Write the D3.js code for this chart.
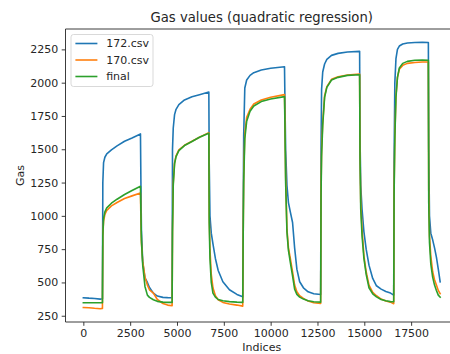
<!DOCTYPE html>
<html>
<head>
<meta charset="utf-8">
<script src="https://cdn.jsdelivr.net/npm/d3@7"></script>
<style>
  body { margin: 0; background: #fff; }
  svg text { font-family: "DejaVu Sans", sans-serif; fill: #262626; }
</style>
</head>
<body>
<div id="chart-1"></div>
<script>
// sample indices shared by the three series
var indices = [0, 300, 600, 900, 1020,
  1040, 1080, 1150, 1250, 1500, 1800, 2200, 2600, 3050,
  3070, 3100, 3170, 3290, 3420, 3530, 3740, 3950, 4250, 4500, 4740,
  4760, 4800, 4870, 4950, 5100, 5400, 5800, 6200, 6700,
  6720, 6760, 6830, 6920, 7050, 7200, 7450, 7800, 8200, 8510,
  8530, 8560, 8620, 8720, 8900, 9100, 9500, 10000, 10740,
  10760, 10800, 10870, 10950, 11050, 11170, 11280, 11400, 11550, 11750, 12000, 12300, 12670,
  12690, 12720, 12780, 12880, 13000, 13250, 13600, 14100, 14750,
  14770, 14810, 14880, 14980, 15100, 15250, 15450, 15650, 15900, 16150, 16400, 16570,
  16590, 16630, 16690, 16770, 16870, 17050, 17300, 17700, 18100, 18420,
  18440, 18480, 18550, 18650, 18750, 18850, 18950, 19050]

var gas172 = [385, 382, 380, 375, 378,
  1250, 1400, 1440, 1465, 1495, 1525, 1560, 1585, 1615,
  1300, 900, 650, 535, 500, 462, 420, 398, 388, 386, 385,
  1500, 1660, 1760, 1800, 1835, 1870, 1895, 1910, 1930,
  1400, 1000, 870, 790, 680, 590, 505, 445, 410, 392,
  900, 1600, 1960, 2020, 2055, 2075, 2095, 2108, 2120,
  1900, 1500, 1230, 1100, 1030, 950, 760, 600, 505, 460, 430, 415, 410,
  1500, 1950, 2080, 2140, 2175, 2205, 2220, 2230, 2235,
  1600, 1230, 1050, 880, 750, 630, 530, 475, 450, 432, 420, 405,
  1400, 2000, 2180, 2250, 2275, 2290, 2298, 2302, 2303, 2302,
  1500, 1000, 870, 820, 760, 690, 600, 505]

var gas170 = [312, 310, 306, 303, 305,
  850, 960, 1010, 1040, 1075, 1100, 1130, 1150, 1172,
  1000, 800, 660, 540, 480, 445, 420, 372, 342, 330, 325,
  900, 1250, 1400, 1450, 1495, 1530, 1560, 1590, 1625,
  1000, 750, 560, 460, 400, 370, 350, 338, 330, 322,
  800, 1300, 1620, 1740, 1800, 1840, 1870, 1890, 1910,
  1750, 1300, 900, 760, 680, 580, 480, 430, 400, 380, 360, 348, 342,
  1200, 1500, 1700, 1900, 1970, 2025, 2045, 2058, 2065,
  1500, 1100, 900, 700, 580, 480, 425, 400, 375, 360, 352, 340,
  1200, 1600, 1900, 2040, 2100, 2130, 2145, 2152, 2155, 2155,
  1200, 850, 700, 580, 520, 480, 440, 415]

var gasFinal = [347, 347, 347, 347, 347,
  850, 980, 1030, 1060, 1095, 1125, 1160, 1190, 1222,
  1050, 820, 630, 470, 405, 388, 370, 358, 352, 350, 350,
  880, 1230, 1390, 1445, 1490, 1528, 1558, 1590, 1620,
  950, 680, 500, 420, 390, 372, 362, 356, 352, 350,
  780, 1250, 1580, 1710, 1785, 1825, 1858, 1878, 1895,
  1700, 1250, 880, 740, 650, 550, 450, 410, 390, 375, 362, 355, 352,
  1150, 1450, 1680, 1890, 1965, 2020, 2040, 2055, 2060,
  1450, 1050, 850, 680, 560, 460, 415, 392, 372, 362, 356, 355,
  1150, 1580, 1890, 2040, 2110, 2145, 2160, 2168, 2170, 2168,
  1100, 800, 640, 540, 480, 440, 405, 390]

var seriesNames = ['172.csv', '170.csv', 'final']
var seriesValues = [gas172, gas170, gasFinal]
var colors = ['#1f77b4', '#ff7f0e', '#2ca02c']

var xTicks = [0, 2500, 5000, 7500, 10000, 12500, 15000, 17500]
var yTicks = [250, 500, 750, 1000, 1250, 1500, 1750, 2000, 2250]

var width = 450
var height = 354
var margin = { top: 29, right: -8, bottom: 32, left: 65.5 }

var svg = d3.select('#chart-1').append('svg')
  .attr('width', width)
  .attr('height', height)

// matplotlib style 5% padding around the data
var xMin = d3.min(indices), xMax = d3.max(indices)
var xPad = (xMax - xMin) * 0.05
var xScale = d3.scaleLinear()
  .domain([xMin - xPad, xMax + xPad])
  .range([margin.left, width - margin.right])

var allVals = d3.merge(seriesValues)
var yMin = d3.min(allVals), yMax = d3.max(allVals)
var yPad = (yMax - yMin) * 0.05
var yScale = d3.scaleLinear()
  .domain([yMin - yPad, yMax + yPad])
  .range([height - margin.bottom, margin.top])

var fs = 11

// x axis
var xAxis = d3.axisBottom(xScale)
  .tickValues(xTicks)
  .tickFormat(d => d.toString())
  .tickSize(3.8)
  .tickPadding(3.5)
var gx = svg.append('g')
  .attr('transform', 'translate(0,' + (height - margin.bottom) + ')')
  .call(xAxis)
gx.select('.domain').remove()
gx.selectAll('.tick line').attr('stroke', '#262626').attr('stroke-width', 0.9)
gx.selectAll('.tick text').attr('font-size', fs).style('font-family', '"DejaVu Sans", sans-serif').attr('fill', '#262626')

// y axis
var yAxis = d3.axisLeft(yScale)
  .tickValues(yTicks)
  .tickFormat(d => d.toString())
  .tickSize(3.8)
  .tickPadding(3.5)
var gy = svg.append('g')
  .attr('transform', 'translate(' + margin.left + ',0)')
  .call(yAxis)
gy.select('.domain').remove()
gy.selectAll('.tick line').attr('stroke', '#262626').attr('stroke-width', 0.9)
gy.selectAll('.tick text').attr('font-size', fs).style('font-family', '"DejaVu Sans", sans-serif').attr('fill', '#262626')

// lines
svg.append('clipPath').attr('id', 'plot-clip')
  .append('rect')
  .attr('x', margin.left).attr('y', margin.top)
  .attr('width', width - margin.right - margin.left)
  .attr('height', height - margin.bottom - margin.top)

var line = d3.line()
  .x((d, i) => xScale(indices[i]))
  .y(d => yScale(d))

svg.append('g').attr('clip-path', 'url(#plot-clip)')
  .selectAll('path')
  .data(seriesValues)
  .join('path')
  .attr('d', line)
  .attr('fill', 'none')
  .attr('stroke', (d, i) => colors[i])
  .attr('stroke-width', 1.6)
  .attr('stroke-linejoin', 'round')
  .attr('stroke-linecap', 'square')

// spines (right one falls outside the picture)
var x0 = margin.left, x1 = width - margin.right
var y0 = margin.top, y1 = height - margin.bottom
svg.append('path')
  .attr('d', 'M' + x0 + ',' + y1 + 'V' + y0 + 'H' + x1 + 'V' + y1 + 'H' + x0)
  .attr('fill', 'none')
  .attr('stroke', '#262626')
  .attr('stroke-width', 0.9)

// title and labels
svg.append('text')
  .attr('x', (x0 + x1) / 2)
  .attr('y', y0 - 7)
  .attr('text-anchor', 'middle')
  .attr('font-size', 13.2)
  .text('Gas values (quadratic regression)')

svg.append('text')
  .attr('x', (x0 + x1) / 2)
  .attr('y', 351)
  .attr('text-anchor', 'middle')
  .attr('font-size', fs)
  .text('Indices')

svg.append('text')
  .attr('transform', 'translate(24,' + ((y0 + y1) / 2) + ') rotate(-90)')
  .attr('text-anchor', 'middle')
  .attr('font-size', fs)
  .text('Gas')

// legend
var lg = svg.append('g').attr('transform', 'translate(' + (x0 + 5.5) + ',' + (y0 + 5.5) + ')')
lg.append('rect')
  .attr('x', 0).attr('y', 0)
  .attr('width', 82).attr('height', 52)
  .attr('rx', 2.5)
  .attr('fill', '#fff').attr('fill-opacity', 0.8)
  .attr('stroke', '#d5d5d5').attr('stroke-width', 0.9)

seriesNames.forEach(function(name, i) {
  var cy = 9 + i * 16.5
  lg.append('line')
    .attr('x1', 4.4).attr('x2', 26.4)
    .attr('y1', cy).attr('y2', cy)
    .attr('stroke', colors[i]).attr('stroke-width', 1.6)
  lg.append('text')
    .attr('x', 35.2).attr('y', cy)
    .attr('dy', '0.36em')
    .attr('font-size', fs)
    .text(name)
})
</script>
</body>
</html>
